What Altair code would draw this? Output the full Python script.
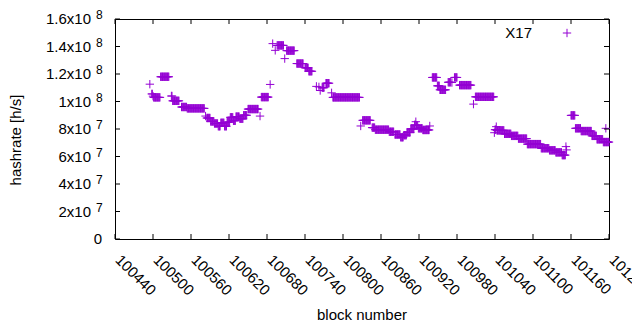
import altair as alt
import pandas as pd

# Runs of (nearly) constant hashrate: first block, last block, value in units of 1e7 h/s
run_start = [100495, 100498, 100500, 100501, 100512, 100529, 100531, 100545, 100554, 100583,
             100585, 100591, 100597, 100603, 100607, 100613, 100617, 100622, 100627, 100631,
             100637, 100643, 100650, 100669, 100671, 100685, 100689, 100693, 100696, 100708,
             100711, 100727, 100740, 100746, 100758, 100762, 100764, 100767, 100773, 100782,
             100784, 100828, 100831, 100846, 100851, 100873, 100882, 100891, 100896, 100901,
             100907, 100913, 100915, 100916, 100919, 100926, 100937, 100941, 100949, 100953,
             100966, 100972, 100976, 100984, 101006, 101009, 101039, 101040, 101042, 101043,
             101055, 101066, 101077, 101091, 101113, 101126, 101136, 101146, 101152, 101153,
             101160, 101167, 101176, 101193, 101201, 101211, 101215]
run_end = [100495, 100499, 100500, 100511, 100525, 100530, 100541, 100553, 100581, 100583,
           100590, 100596, 100602, 100606, 100612, 100616, 100621, 100626, 100630, 100636,
           100642, 100648, 100666, 100669, 100682, 100685, 100689, 100693, 100706, 100708,
           100723, 100737, 100745, 100751, 100758, 100762, 100764, 100770, 100778, 100782,
           100826, 100828, 100843, 100850, 100872, 100880, 100890, 100895, 100900, 100906,
           100912, 100914, 100915, 100918, 100925, 100936, 100937, 100948, 100952, 100962,
           100970, 100972, 100980, 101002, 101006, 101038, 101039, 101041, 101042, 101054,
           101065, 101076, 101090, 101112, 101125, 101135, 101145, 101151, 101152, 101153,
           101166, 101175, 101192, 101200, 101210, 101220, 101215]
run_value = [11.26, 10.55, 10.39, 10.30, 11.80, 10.40, 10.05, 9.60, 9.50, 8.94,
             8.80, 8.55, 8.40, 8.20, 8.45, 8.20, 8.50, 8.85, 8.60, 8.90,
             8.75, 9.00, 9.45, 8.94, 10.32, 11.24, 14.21, 13.72, 14.08, 13.12,
             13.70, 12.76, 12.45, 12.20, 11.10, 11.06, 10.80, 11.00, 11.33, 10.63,
             10.30, 8.22, 8.63, 8.10, 7.95, 7.80, 7.60, 7.40, 7.55, 7.75,
             8.00, 8.30, 8.53, 8.25, 8.05, 7.93, 8.22, 11.75, 11.14, 10.85,
             11.40, 11.38, 11.75, 11.19, 9.81, 10.34, 7.73, 7.95, 8.17, 7.90,
             7.65, 7.50, 7.30, 6.90, 6.60, 6.45, 6.30, 6.10, 6.72, 6.48,
             8.99, 8.05, 7.85, 7.50, 7.25, 7.05, 8.05]

x_ticks = [100440, 100500, 100560, 100620, 100680, 100740, 100800, 100860,
           100920, 100980, 101040, 101100, 101160, 101220]
y_ticks = [0, 2e7, 4e7, 6e7, 8e7, 1e8, 1.2e8, 1.4e8, 1.6e8]
y_base = ["0", "2x10", "4x10", "6x10", "8x10", "1x10", "1.2x10", "1.4x10", "1.6x10"]
y_sup = ["", "7", "7", "7", "7", "8", "8", "8", "8"]

series_name = "X17"
x_title = "block number"
y_title = "hashrate [h/s]"

rows = []
for s, e, v in zip(run_start, run_end, run_value):
    for b in range(s, e + 1):
        rows.append({"block": b, "hashrate": v * 1e7})
df = pd.DataFrame(rows)

W, H = 494, 220
FONT = "Liberation Sans"
FS = 15
PURPLE = "#9400d3"
PLUS = "M-1,0L1,0M0,-1L0,1"
TL = 5

xscale = alt.Scale(domain=[x_ticks[0], x_ticks[-1]], nice=False, zero=False)
yscale = alt.Scale(domain=[y_ticks[0], y_ticks[-1]], nice=False, zero=False)

points = alt.Chart(df).mark_point(
    shape=PLUS, filled=False, size=70, strokeWidth=1, color=PURPLE, opacity=1
).encode(
    x=alt.X("block:Q", scale=xscale, axis=None),
    y=alt.Y("hashrate:Q", scale=yscale, axis=None),
)

xt = pd.DataFrame({"t": x_ticks})
yt = pd.DataFrame({"v": y_ticks, "base": y_base, "sup": y_sup})

def rule(data, **enc):
    return alt.Chart(data).mark_rule(color="black", strokeWidth=1).encode(**enc)

x_enc = alt.X("t:Q", scale=xscale, axis=None)
y_enc = alt.Y("v:Q", scale=yscale, axis=None)
ticks = [
    rule(xt, x=x_enc, y=alt.value(H - TL), y2=alt.value(H)),
    rule(xt, x=x_enc, y=alt.value(0), y2=alt.value(TL)),
    rule(yt, y=y_enc, x=alt.value(0), x2=alt.value(TL)),
    rule(yt, y=y_enc, x=alt.value(W - TL), x2=alt.value(W)),
]

xlab = alt.Chart(xt).mark_text(
    align="left", baseline="top", angle=45, font=FONT, fontSize=FS, color="black",
    dx=7.3, dy=-3.9
).encode(x=x_enc, y=alt.value(H + 11), text=alt.Text("t:Q", format="d"))

ylab_base = alt.Chart(yt).transform_filter("datum.sup != ''").mark_text(
    align="right", baseline="middle", font=FONT, fontSize=FS, color="black"
).encode(y=y_enc, x=alt.value(-24), text="base:N")
ylab_sup = alt.Chart(yt).transform_filter("datum.sup != ''").mark_text(
    align="left", baseline="middle", font=FONT, fontSize=12, color="black", dy=-4
).encode(y=y_enc, x=alt.value(-19), text="sup:N")
ylab_zero = alt.Chart(yt).transform_filter("datum.sup == ''").mark_text(
    align="right", baseline="middle", font=FONT, fontSize=FS, color="black"
).encode(y=y_enc, x=alt.value(-13), text="base:N")

xtitle = alt.Chart(pd.DataFrame({"t": [x_title]})).mark_text(
    font=FONT, fontSize=FS, color="black", baseline="middle", align="center"
).encode(text="t:N", x=alt.value(W / 2), y=alt.value(296))
ytitle = alt.Chart(pd.DataFrame({"t": [y_title]})).mark_text(
    font=FONT, fontSize=FS, color="black", baseline="middle", align="center", angle=270
).encode(text="t:N", x=alt.value(-99), y=alt.value(121))

leg = pd.DataFrame({"name": [series_name]})
leg_text = alt.Chart(leg).mark_text(
    font=FONT, fontSize=FS, color="black", align="right", baseline="middle"
).encode(text="name:N", x=alt.value(417), y=alt.value(14))
leg_pt = alt.Chart(leg).mark_point(
    shape=PLUS, filled=False, size=70, strokeWidth=1, color=PURPLE, opacity=1
).encode(x=alt.value(452), y=alt.value(14))

chart = alt.layer(
    points, *ticks, xlab, ylab_base, ylab_sup, ylab_zero, xtitle, ytitle, leg_text, leg_pt
).properties(
    width=W, height=H,
    autosize=alt.AutoSizeParams(type="none"),
    padding={"left": 107, "top": 11, "right": 23, "bottom": 83},
).configure_view(stroke="black", strokeWidth=1)

chart.save("out.html", embed_options={"renderer": "svg", "actions": False})
